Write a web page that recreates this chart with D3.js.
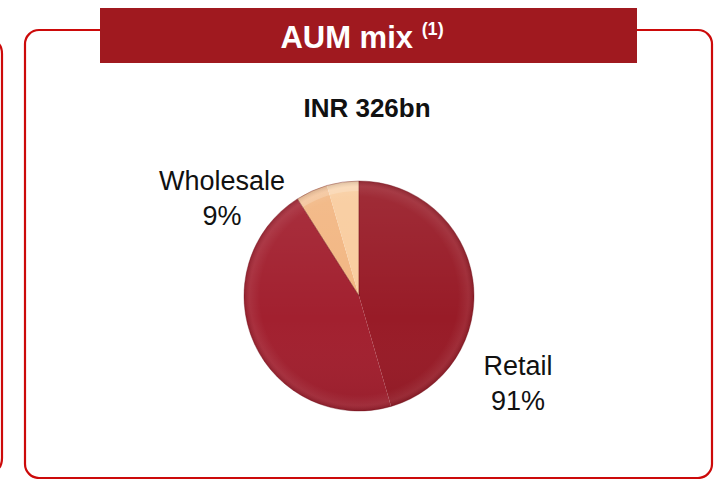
<!DOCTYPE html>
<html>
<head>
<meta charset="utf-8">
<script src="https://cdn.jsdelivr.net/npm/d3@7"></script>
<style>
  html, body { margin: 0; padding: 0; background: #fff; }
  svg { display: block; }
  text { font-family: 'Liberation Sans', Arial, sans-serif; }
</style>
</head>
<body>
<svg id="chart" width="718" height="479"></svg>
<script>
const categories = ['Retail', 'Wholesale']
const shares = [91, 9]
const shareLabels = ['91%', '9%']
const titleText = 'AUM mix'
const titleNote = '(1)'
const totalText = 'INR 326bn'

// facet colours: [first half, second half] of each slice
const facetColors = [['#981b27', '#a2202f'], ['#f2b682', '#f9cc9e']]

const width = 718
    , height = 479
    , cx = 359
    , cy = 296
    , radius = 115
    , svg = d3.select('#chart')

// panels
svg.append('path')
    .attr('d', 'M -20 40 L -12 40 Q 2 40 2 54 L 2 458 Q 2 472 -12 472 L -20 472')
    .attr('fill', 'none').attr('stroke', '#cc0a0a').attr('stroke-width', 2.2)
svg.append('rect')
    .attr('x', 25).attr('y', 30).attr('width', 687).attr('height', 448)
    .attr('rx', 14).attr('ry', 14)
    .attr('fill', 'none').attr('stroke', '#cc0a0a').attr('stroke-width', 2.2)

// title banner
svg.append('rect')
    .attr('x', 100).attr('y', 8).attr('width', 537).attr('height', 55)
    .attr('fill', '#a0191f')
const title = svg.append('text')
    .attr('x', 362).attr('y', 48)
    .attr('text-anchor', 'middle')
    .attr('fill', '#fff').attr('font-weight', 'bold').attr('font-size', 31)
title.append('tspan').text(titleText + ' ')
title.append('tspan').attr('font-size', 18).attr('dy', -13).text(titleNote)

svg.append('text')
    .attr('x', 367).attr('y', 117)
    .attr('text-anchor', 'middle')
    .attr('font-weight', 'bold').attr('font-size', 26)
    .attr('fill', '#111')
    .text(totalText)

// pie
const defs = svg.append('defs')
const shade = defs.append('radialGradient').attr('id', 'shade')
    .attr('cx', '50%').attr('cy', '50%').attr('r', '50%')
shade.append('stop').attr('offset', '0%').attr('stop-color', '#fff').attr('stop-opacity', 0)
shade.append('stop').attr('offset', '86%').attr('stop-color', '#fff').attr('stop-opacity', 0)
shade.append('stop').attr('offset', '95%').attr('stop-color', '#fff').attr('stop-opacity', 0.07)
shade.append('stop').attr('offset', '100%').attr('stop-color', '#000').attr('stop-opacity', 0.12)
const tone = defs.append('linearGradient').attr('id', 'tone')
    .attr('x1', '0%').attr('y1', '0%').attr('x2', '0%').attr('y2', '100%')
tone.append('stop').attr('offset', '0%').attr('stop-color', '#fff').attr('stop-opacity', 0.08)
tone.append('stop').attr('offset', '60%').attr('stop-color', '#fff').attr('stop-opacity', 0)
tone.append('stop').attr('offset', '100%').attr('stop-color', '#000').attr('stop-opacity', 0.06)

const pie = d3.pie().sort(null).value(d => d)
const arcs = pie(shares)
const arc = d3.arc().innerRadius(0).outerRadius(radius)
const rim = d3.arc().innerRadius(radius - 10).outerRadius(radius)
const g = svg.append('g').attr('transform', `translate(${cx},${cy})`)

arcs.forEach((a, i) => {
    const mid = (a.startAngle + a.endAngle) / 2
    g.append('path')
        .attr('d', arc({ startAngle: a.startAngle, endAngle: mid }))
        .attr('fill', facetColors[i][0])
    g.append('path')
        .attr('d', arc({ startAngle: mid, endAngle: a.endAngle }))
        .attr('fill', facetColors[i][1])
    if (i === 1) {
        g.append('path')
            .attr('d', rim(a))
            .attr('fill', '#fff')
            .attr('opacity', 0.18)
    }
})
g.selectAll('path.edge')
    .data(arcs)
    .join('path')
    .attr('class', 'edge')
    .attr('d', arc)
    .attr('fill', 'none')
    .attr('stroke', 'rgba(110,10,20,0.35)')
    .attr('stroke-width', 1)
g.append('circle').attr('r', radius).attr('fill', 'url(#tone)')
g.append('circle').attr('r', radius).attr('fill', 'url(#shade)')

// labels
const labelPos = [[518, 375], [222, 190]]
categories.forEach((c, i) => {
    const t = svg.append('text')
        .attr('text-anchor', 'middle')
        .attr('font-size', 27)
        .attr('fill', '#111')
    t.append('tspan').attr('x', labelPos[i][0]).attr('y', labelPos[i][1]).text(c)
    t.append('tspan').attr('x', labelPos[i][0]).attr('y', labelPos[i][1] + 35).text(shareLabels[i])
})
</script>
</body>
</html>
